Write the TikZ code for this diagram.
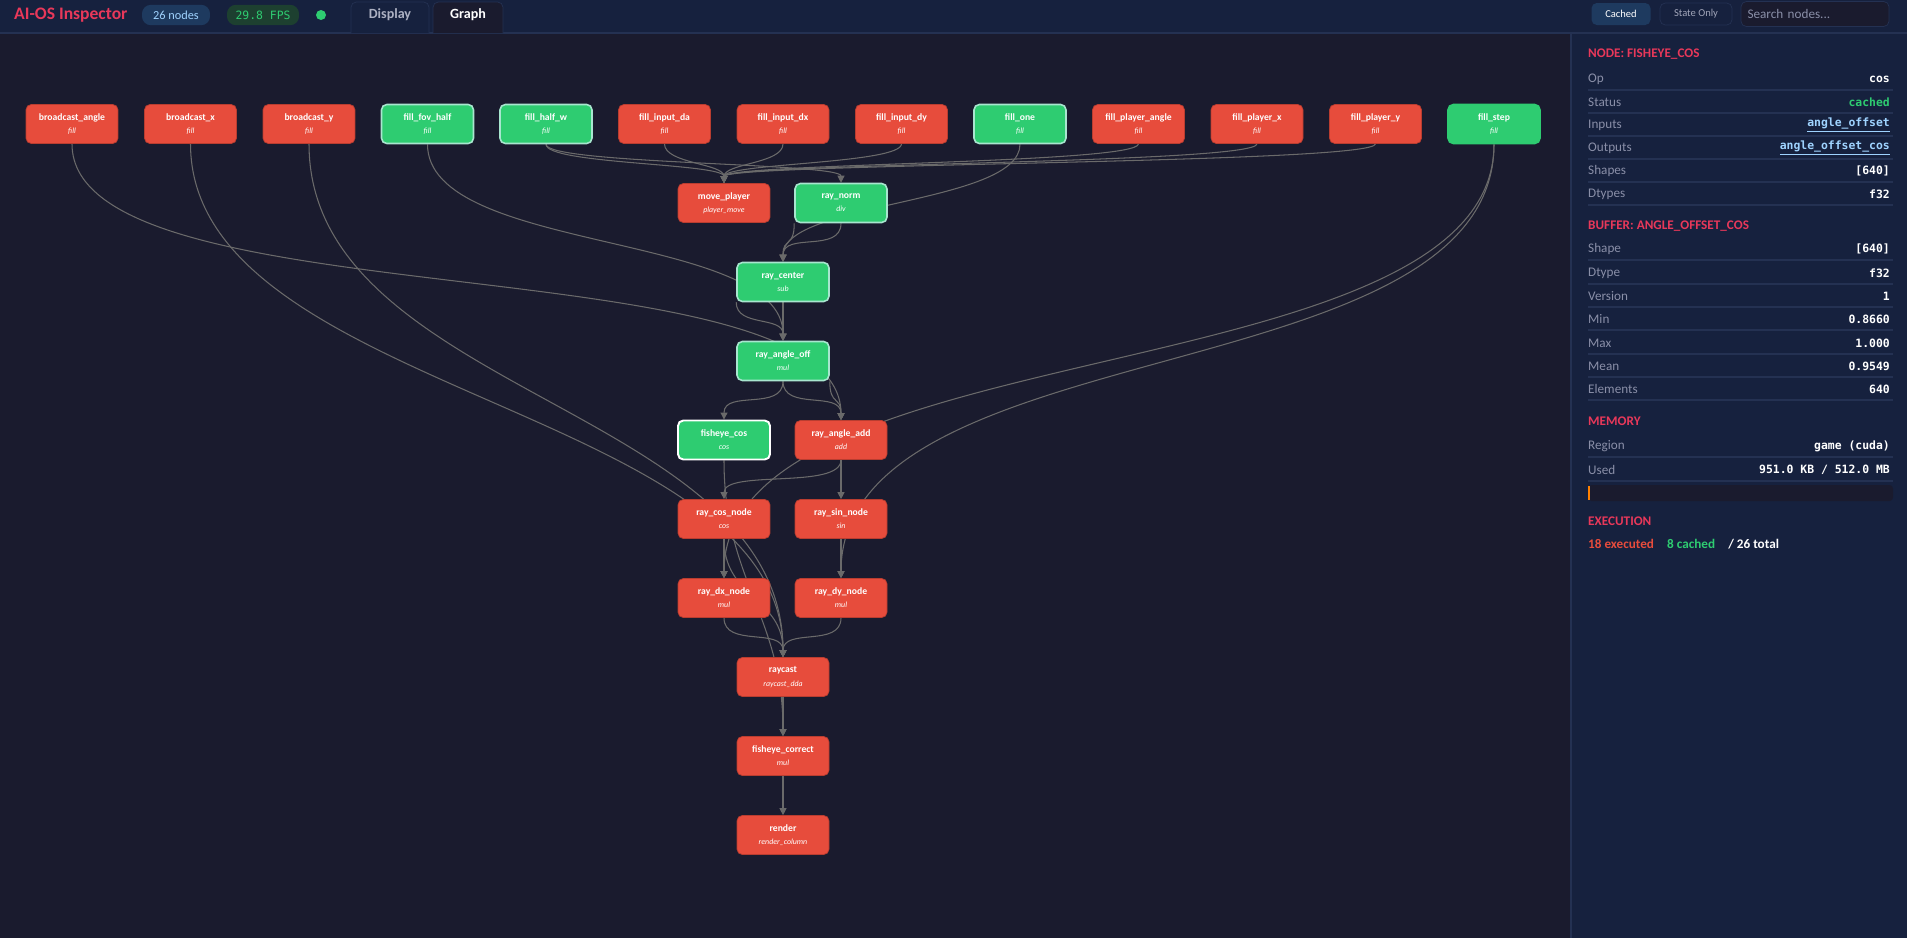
\documentclass[tikz,border=0pt]{standalone}
\usepackage{fontspec}
\setmainfont{Carlito}
\setmonofont{DejaVu Sans Mono}
\usetikzlibrary{positioning}
\usetikzlibrary{arrows.meta}
\usetikzlibrary{calc}
\pgfdeclarelayer{bg}
\pgfdeclarelayer{wires}
\pgfsetlayers{bg,wires,main}
\definecolor{canvas}{HTML}{1A1B2E}
\definecolor{panel}{HTML}{16213E}
\definecolor{rule}{HTML}{243152}
\definecolor{pillblue}{HTML}{1E3A5F}
\definecolor{pillgreen}{HTML}{1D4030}
\definecolor{opred}{HTML}{E74C3C}
\definecolor{opgreen}{HTML}{2ECC71}
\definecolor{mint}{HTML}{A8E6CF}
\definecolor{accent}{HTML}{E8385A}
\definecolor{muted}{HTML}{8A8FA8}
\definecolor{linkblue}{HTML}{9FD3FF}
\definecolor{wire}{HTML}{6A6A6A}
\tikzset{
  op/.style={draw=opred!80!black, fill=opred, rounded corners=3pt, minimum width=1.84cm, minimum height=0.78cm, align=center, text=white, inner sep=1pt, font=\fontsize{5.5}{6.5}\selectfont},
  cached/.style={op, draw=mint, fill=opgreen, line width=0.9pt},
  picked/.style={cached, draw=white, line width=1.1pt},
  edge/.style={draw=wire, line width=0.6pt, -{Triangle[length=4pt,width=4pt]}},
  flow/.style={to path={.. controls ($(\tikztostart)+(0,#1)$) and ($(\tikztotarget)+(0,-#1)$) .. (\tikztotarget)}},
  flow/.default=35,
  lbl/.style={anchor=west, text=muted, font=\fontsize{7.5}{8}\selectfont},
  val/.style={anchor=east, text=white, font=\ttfamily\bfseries\fontsize{6.5}{8}\selectfont},
  head/.style={anchor=west, text=accent, font=\bfseries\fontsize{7.5}{8}\selectfont},
  pill/.style={rounded corners=5pt, font=\fontsize{7}{8}\selectfont}
}
\newcommand{\optext}[2]{\textbf{#1}\\[1pt]{\itshape\fontsize{4.5}{5}\selectfont #2}}
\begin{document}
\begin{tikzpicture}[x=0.02cm, y=-0.02cm]
  \useasboundingbox (0,0) rectangle (1907,938);
  \clip (0,0) rectangle (1907,938);
  \begin{pgfonlayer}{bg}
  \fill[canvas] (0,0) rectangle (1907,938);
  \end{pgfonlayer}
  % header bar
  \fill[panel] (0,0) rectangle (1907,33);
  \draw[rule, line width=0.8pt] (0,33) -- (1907,33);
  \node[anchor=west, text=accent, font=\bfseries\fontsize{10}{11}\selectfont] (title) at (8,15) {AI-OS Inspector};
  \node[pill, fill=pillblue, text=linkblue, minimum width=1.36cm, minimum height=0.4cm] (count) at (176,15) {26 nodes};
  \node[pill, fill=pillgreen, text=opgreen, minimum width=1.44cm, minimum height=0.4cm, font=\ttfamily\fontsize{6.5}{8}\selectfont] (fps) at (263,15) {29.8 FPS};
  \fill[opgreen] (321,15) circle (5);
  \draw[rule, fill=panel, rounded corners=3pt] (351,33) -- (351,2) -- (429,2) -- (429,33);
  \node[text=muted!70, font=\bfseries\fontsize{8}{9}\selectfont] (display) at (390,15) {Display};
  \draw[rule, fill=canvas, rounded corners=3pt] (433,33) -- (433,2) -- (503,2) -- (503,33);
  \node[text=white, font=\bfseries\fontsize{8}{9}\selectfont] (graph) at (468,15) {Graph};
  \node[pill, rounded corners=3pt, fill=pillblue, text=white, minimum width=1.18cm, minimum height=0.44cm, font=\fontsize{6}{7}\selectfont] (cachedbtn) at (1621,14) {Cached};
  \node[pill, rounded corners=3pt, draw=rule, fill=panel, text=muted!80!white, minimum width=1.44cm, minimum height=0.44cm, font=\fontsize{6}{7}\selectfont] (stateonly) at (1696,14) {State Only};
  \node[draw=rule, fill=canvas, rounded corners=3pt, minimum width=2.96cm, minimum height=0.5cm, text=muted, font=\fontsize{7.5}{8}\selectfont, text width=2.7cm] (search) at (1815,14) {Search nodes...};
  % side panel
  \fill[panel] (1571,34) rectangle (1907,938);
  \draw[rule, line width=0.8pt] (1571,34) -- (1571,938);
  \node[head] (nodehead) at (1582,54) {NODE: FISHEYE\_COS};
  \foreach \y/\k/\v/\c in {79/Op/cos/white, 102/Status/cached/opgreen, 125/Inputs/\underline{angle\_offset}/linkblue, 148/Outputs/\underline{angle\_offset\_cos}/linkblue, 171/Shapes/[640]/white, 194/Dtypes/f32/white,
      249/Shape/[640]/white, 273/Dtype/f32/white, 296/Version/1/white, 319/Min/0.8660/white, 343/Max/1.000/white, 366/Mean/0.9549/white, 389/Elements/640/white,
      446/Region/game (cuda)/white, 470/Used/{951.0 KB / 512.0 MB}/white} {
    \node[lbl] at (1582,\y) {\k};
    \node[val, text=\c] at (1896,\y) {\v};
    \draw[rule, line width=0.6pt] (1588,\y+11) -- (1893,\y+11);
  }
  \node[head] (bufhead) at (1582,226) {BUFFER: ANGLE\_OFFSET\_COS};
  \node[head] (memhead) at (1582,421) {MEMORY};
  \fill[canvas, rounded corners=2pt] (1588,485) rectangle (1893,501);
  \fill[orange] (1588,486) rectangle (1589.5,500);
  \node[head] (exechead) at (1582,521) {EXECUTION};
  \node[anchor=west, font=\bfseries\fontsize{7.5}{8}\selectfont] (stats) at (1582,544) {\textcolor{opred}{18 executed}\quad\textcolor{opgreen}{8 cached}\quad\textcolor{white}{/ 26 total}};
  % source row
  \node[op] (bangle) at (72,124) {\optext{broadcast\_angle}{fill}};
  \node[op] (bx) at (190.5,124) {\optext{broadcast\_x}{fill}};
  \node[op] (by) at (309,124) {\optext{broadcast\_y}{fill}};
  \node[cached] (fov) at (427.5,124) {\optext{fill\_fov\_half}{fill}};
  \node[cached] (halfw) at (546,124) {\optext{fill\_half\_w}{fill}};
  \node[op] (inda) at (664.5,124) {\optext{fill\_input\_da}{fill}};
  \node[op] (indx) at (783,124) {\optext{fill\_input\_dx}{fill}};
  \node[op] (indy) at (901.5,124) {\optext{fill\_input\_dy}{fill}};
  \node[cached] (one) at (1020,124) {\optext{fill\_one}{fill}};
  \node[op] (pangle) at (1138.5,124) {\optext{fill\_player\_angle}{fill}};
  \node[op] (px) at (1257,124) {\optext{fill\_player\_x}{fill}};
  \node[op] (py) at (1375.5,124) {\optext{fill\_player\_y}{fill}};
  \node[cached, draw=opgreen] (step) at (1494,124) {\optext{fill\_step}{fill}};
  % compute nodes
  \node[op] (move) at (724,203) {\optext{move\_player}{player\_move}};
  \node[cached] (norm) at (841,203) {\optext{ray\_norm}{div}};
  \node[cached] (center) at (783,282) {\optext{ray\_center}{sub}};
  \node[cached] (angoff) at (783,361) {\optext{ray\_angle\_off}{mul}};
  \node[picked] (fcos) at (724,440) {\optext{fisheye\_cos}{cos}};
  \node[op] (angadd) at (841,440) {\optext{ray\_angle\_add}{add}};
  \node[op] (cosn) at (724,519) {\optext{ray\_cos\_node}{cos}};
  \node[op] (sinn) at (841,519) {\optext{ray\_sin\_node}{sin}};
  \node[op] (dx) at (724,598) {\optext{ray\_dx\_node}{mul}};
  \node[op] (dy) at (841,598) {\optext{ray\_dy\_node}{mul}};
  \node[op] (cast) at (783,677) {\optext{raycast}{raycast\_dda}};
  \node[op] (fcorr) at (783,756) {\optext{fisheye\_correct}{mul}};
  \node[op] (render) at (783,835) {\optext{render}{render\_column}};
  % wires
  \begin{pgfonlayer}{wires}
  \foreach \s in {inda,indx,indy,pangle,px,py}
    \draw[edge] (\s.south) to[flow=20] (move.north);
  \draw[edge] (halfw.south) to[flow=20] (norm.north);
  \draw[edge] (halfw.south) to[flow=20] (move.north);
  \draw[edge] (one.south) to[flow=60] (center.north);
  \draw[edge] (fov.south) to[flow=110] (angoff.north);
  \draw[edge] (norm.south) to[flow=30] (center.north);
  \draw[edge] (norm.south west) to[flow=25] (center.north);
  \draw[edge] (center.south) -- (angoff.north);
  \draw[edge] (center.south west) to[flow=25] (angoff.north);
  \draw[edge] (bangle.south) to[flow=180] (angadd.north);
  \draw[edge] (angoff.south) to[flow=30] (fcos.north);
  \draw[edge] (angoff.south) to[flow=30] (angadd.north);
  \draw[edge] (angoff.south east) to[flow=25] (angadd.north);
  \draw[edge] (angadd.south) to[flow=30] (cosn.north);
  \draw[edge] (angadd.south) to[flow=30] (sinn.north);
  \draw[edge] (fcos.south) to[flow=120] (fcorr.north);
  \draw[edge] (step.south) to[flow=250] (dx.north);
  \draw[edge] (step.south) to[flow=250] (dy.north);
  \draw[edge] (cosn.south) -- (dx.north);
  \draw[edge] (cosn.south) to[flow=30] (dx.north);
  \draw[edge] (sinn.south) -- (dy.north);
  \draw[edge] (cosn.south) to[flow=60] (cast.north);
  \draw[edge] (bx.south) to[flow=250] (cast.north);
  \draw[edge] (by.south) to[flow=250] (cast.north);
  \draw[edge] (dx.south) to[flow=30] (cast.north);
  \draw[edge] (dy.south) to[flow=30] (cast.north);
  \draw[edge] (cast.south) -- (fcorr.north);
  \draw[edge] (fcorr.south) -- (render.north);
  \end{pgfonlayer}
\end{tikzpicture}
\end{document}
